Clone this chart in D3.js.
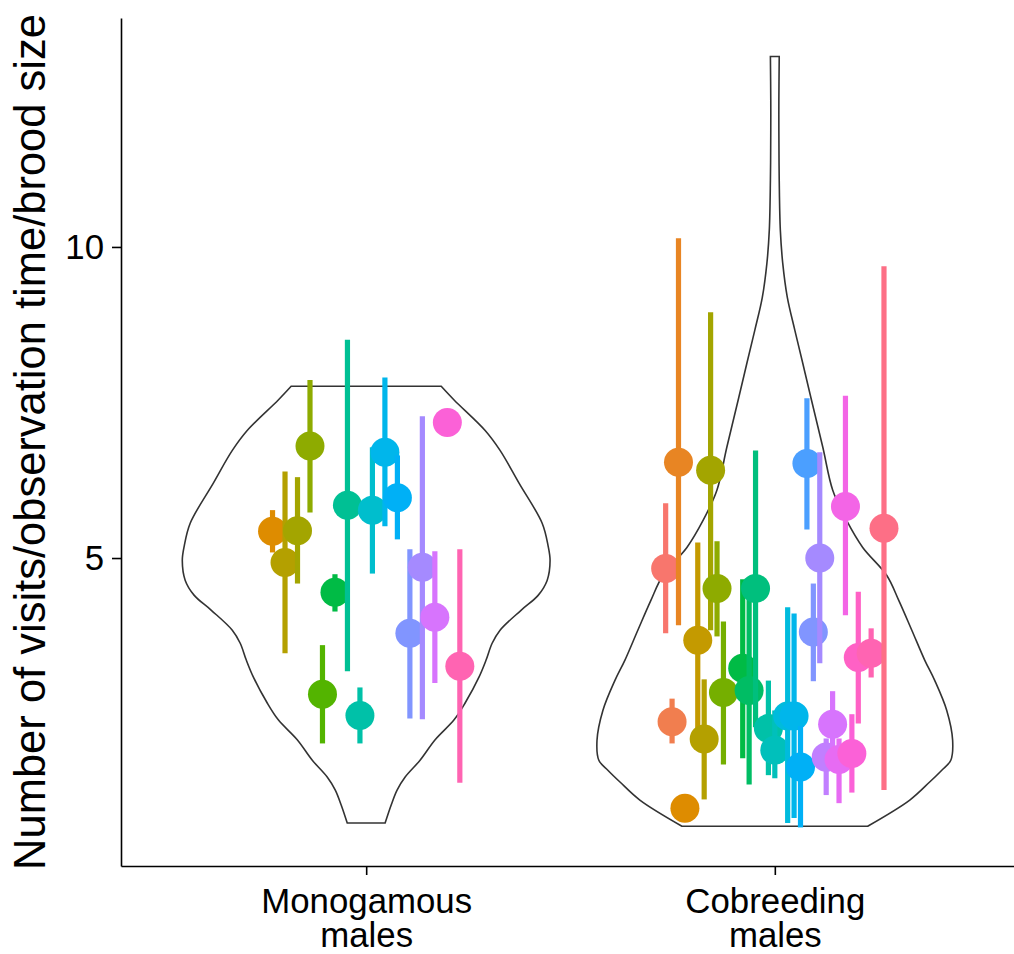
<!DOCTYPE html>
<html>
<head>
<meta charset="utf-8">
<script src="https://cdn.jsdelivr.net/npm/d3@7"></script>
<style>
  body { margin: 0; background: #fff; }
  svg { display: block; font-family: "Liberation Sans", Arial, Helvetica, sans-serif; }
</style>
</head>
<body>
<svg id="chart" width="1014" height="954"></svg>
<script>
// groups on the x axis
const categories = ["Monogamous males", "Cobreeding males"];
const yTicks = [5, 10];
const yTitle = "Number of visits/observation time/brood size";

// number of dodge slots / individuals in the colour palette
const monoSlots = 18;
const cobSlots = 35;
const paletteSize = 35;

// monogamous males: dodge slot, colour id, mean and range
const monoSlot = [1, 2, 3, 4, 5, 6, 7, 8, 9, 10, 11, 12, 13, 14, 15, 16];
const monoId = [3, 6, 7, 8, 10, 12, 15, 16, 18, 20, 21, 24, 25, 27, 30, 32];
const monoMean = [5.43, 4.93, 5.44, 6.80, 2.81, 4.45, 5.85, 2.47, 5.77, 6.70, 5.97, 3.79, 4.85, 4.05, 7.18, 3.26];
const monoLow = [5.09, 3.47, 4.59, 5.73, 2.02, 4.14, 3.18, 2.02, 4.75, 5.51, 5.30, 2.42, 2.41, 2.99, 7.18, 1.39];
const monoHigh = [5.77, 6.39, 6.30, 7.86, 3.60, 4.74, 8.51, 2.92, 6.78, 7.90, 6.65, 5.14, 7.28, 5.11, 7.18, 5.14];

// cobreeding males: dodge slot, colour id, mean and range
const cobSlot = [0, 1, 2, 3, 5, 6, 7, 8, 9, 12, 13, 14, 16, 17, 19, 20, 21, 22, 23, 24, 25, 26, 27, 28, 29, 30, 32, 34];
const cobId = [0, 1, 2, 3, 5, 6, 7, 8, 9, 12, 13, 14, 16, 17, 19, 20, 21, 23, 24, 25, 26, 27, 28, 29, 30, 31, 32, 34];
const cobMean = [4.83, 2.37, 6.54, 0.98, 3.68, 2.09, 6.41, 4.51, 2.84, 3.23, 2.87, 4.51, 2.26, 1.91, 2.46, 2.46, 1.64, 6.52, 3.81, 5.00, 1.80, 2.33, 1.76, 5.83, 1.86, 3.40, 3.47, 5.48];
const cobLow = [3.79, 2.02, 3.92, 0.98, 2.23, 1.12, 3.84, 3.74, 1.68, 1.78, 1.36, 2.28, 1.51, 1.46, 0.74, 0.82, 0.67, 5.46, 3.02, 3.31, 1.19, 1.75, 1.06, 4.08, 1.23, 2.34, 3.08, 1.27];
const cobHigh = [5.88, 2.74, 10.14, 0.98, 5.25, 3.05, 8.95, 5.27, 3.98, 4.66, 4.64, 6.73, 3.03, 2.55, 4.21, 4.11, 2.30, 7.57, 4.59, 6.70, 2.10, 2.86, 2.10, 7.61, 2.49, 4.46, 3.87, 9.69];

// violin outlines: value and relative density (1 = widest)
const monoViolinV = [7.76, 7.54, 7.05, 6.73, 6.20, 5.56, 5.20, 4.96, 4.64, 4.40, 4.16, 3.84, 3.63, 3.36, 3.09, 2.67, 2.40, 2.08, 1.75, 1.48, 1.27, 1.03, 0.74];
const monoViolinW = [0.408, 0.478, 0.647, 0.728, 0.832, 0.957, 0.989, 1.0, 0.984, 0.935, 0.842, 0.728, 0.685, 0.652, 0.614, 0.538, 0.478, 0.375, 0.293, 0.212, 0.168, 0.136, 0.103];
const cobViolinV = [13.06, 12.36, 11.88, 11.07, 10.27, 9.74, 9.19, 8.66, 8.13, 7.58, 6.78, 6.09, 5.60, 5.17, 4.72, 4.32, 3.84, 3.36, 3.03, 2.55, 2.07, 1.75, 1.59, 1.40, 1.11, 0.69];
const cobViolinW = [0.024, 0.022, 0.022, 0.024, 0.030, 0.043, 0.068, 0.109, 0.152, 0.196, 0.261, 0.315, 0.391, 0.478, 0.609, 0.674, 0.745, 0.815, 0.870, 0.935, 0.967, 0.957, 0.908, 0.842, 0.734, 0.505];

// ggplot-style hue palette (polar Luv)
function hcl(h, c, l) {
    const hr = h * Math.PI / 180;
    const U = c * Math.cos(hr), V = c * Math.sin(hr);
    const un = 0.1978398, vn = 0.4683363;
    const Y = l > 7.999592 ? Math.pow((l + 16) / 116, 3) : l / 903.3;
    const u = U / (13 * l) + un, v = V / (13 * l) + vn;
    const X = 9 * Y * u / (4 * v);
    const Z = Y * (12 - 3 * u - 20 * v) / (4 * v);
    const lin = [
        3.240479 * X - 1.537150 * Y - 0.498535 * Z,
        -0.969256 * X + 1.875992 * Y + 0.041556 * Z,
        0.055648 * X - 0.204043 * Y + 1.057311 * Z
    ];
    const rgb = lin.map(t => {
        const g = t <= 0.0031308 ? 12.92 * t : 1.055 * Math.pow(t, 1 / 2.4) - 0.055;
        return Math.round(255 * Math.max(0, Math.min(1, g)));
    });
    return d3.rgb(rgb[0], rgb[1], rgb[2]).formatHex();
}
const palette = d3.range(paletteSize).map(i => hcl((15 + 360 * i / paletteSize) % 360, 100, 65));

const svg = d3.select("#chart");
const margin = { top: 18, right: -6, bottom: 88, left: 121 };
const width = +svg.attr("width") - margin.left - margin.right;
const height = +svg.attr("height") - margin.top - margin.bottom;

const g = svg.append("g").attr("transform", `translate(${margin.left},${margin.top})`);

const x = d3.scalePoint()
    .domain(categories)
    .range([0, width])
    .padding(0.6);

const y = d3.scaleLinear()
    .domain([0.05, 13.68])
    .range([height, 0]);

const halfW = x.step() * 0.45;
const dodgeW = x.step() * 0.55;

const groups = [
    {
        cat: categories[0], slots: monoSlots,
        violin: monoViolinV.map((v, i) => ({ v, w: monoViolinW[i] })),
        pts: monoMean.map((m, i) => ({ slot: monoSlot[i], id: monoId[i], mean: m, low: monoLow[i], high: monoHigh[i] }))
    },
    {
        cat: categories[1], slots: cobSlots,
        violin: cobViolinV.map((v, i) => ({ v, w: cobViolinW[i] })),
        pts: cobMean.map((m, i) => ({ slot: cobSlot[i], id: cobId[i], mean: m, low: cobLow[i], high: cobHigh[i] }))
    }
];

// violins
groups.forEach(grp => {
    const cx = x(grp.cat);
    const area = d3.area()
        .y(d => y(d.v))
        .x0(d => cx - d.w * halfW)
        .x1(d => cx + d.w * halfW)
        .curve(d3.curveCatmullRom.alpha(0.5));
    g.append("path")
        .datum(grp.violin)
        .attr("d", area)
        .attr("fill", "white")
        .attr("stroke", "#333333")
        .attr("stroke-width", 1.6);
});

// point ranges, dodged by individual
groups.forEach(grp => {
    const cx = x(grp.cat);
    const px = d => cx + dodgeW * ((d.slot + 0.5) / grp.slots - 0.5);
    const pr = g.selectAll(null)
        .data(grp.pts)
        .enter()
        .append("g");
    pr.append("line")
        .attr("x1", px).attr("x2", px)
        .attr("y1", d => y(d.low)).attr("y2", d => y(d.high))
        .attr("stroke", d => palette[d.id])
        .attr("stroke-width", 5.2);
    pr.append("circle")
        .attr("cx", px)
        .attr("cy", d => y(d.mean))
        .attr("r", 14.5)
        .attr("fill", d => palette[d.id]);
});

// axes
const yAxis = g.append("g")
    .call(d3.axisLeft(y).tickValues(yTicks).tickSize(9).tickSizeOuter(0).tickPadding(8));
const xAxis = g.append("g")
    .attr("transform", `translate(0,${height})`)
    .call(d3.axisBottom(x).tickSize(9).tickSizeOuter(0).tickPadding(8));

[yAxis, xAxis].forEach(a => {
    a.select(".domain").attr("stroke", "black").attr("stroke-width", 1.6);
    a.selectAll(".tick line").attr("stroke", "black").attr("stroke-width", 1.6);
    a.selectAll(".tick text").attr("fill", "black").style("font-size", "34.8px");
});

xAxis.selectAll(".tick text")
    .attr("dy", null)
    .attr("y", 47)
    .each(function (d) {
        const t = d3.select(this);
        const words = d.split(" ");
        t.text(null);
        words.forEach((w, i) => {
            t.append("tspan").attr("x", 0).attr("dy", i === 0 ? 0 : 34).text(w);
        });
    });

g.append("text")
    .attr("transform", "rotate(-90)")
    .attr("x", -height / 2)
    .attr("y", -76)
    .attr("text-anchor", "middle")
    .style("font-size", "43.5px")
    .attr("fill", "black")
    .text(yTitle);
</script>
</body>
</html>
